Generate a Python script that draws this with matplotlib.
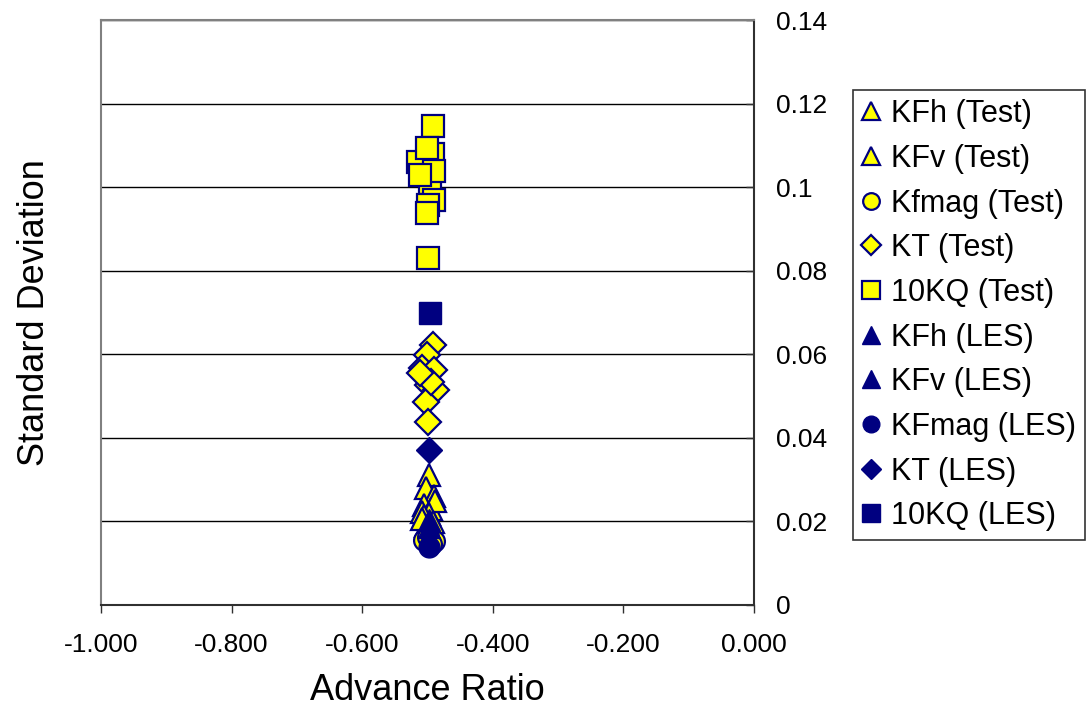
import matplotlib
matplotlib.use("Agg")
import matplotlib.pyplot as plt
from matplotlib.ticker import FixedLocator, FuncFormatter

plt.rcParams['font.family'] = ['Liberation Sans', 'DejaVu Sans']

# ---- data ----
kq_test_x = [-0.492, -0.492, -0.514, -0.501, -0.496, -0.490, -0.490, -0.500, -0.501, -0.500, -0.512]
kq_test_y = [0.1146, 0.1080, 0.1060, 0.1093, 0.1009, 0.1039, 0.0969, 0.0957, 0.0937, 0.0830, 0.1030]
kt_test_x = [-0.491, -0.501, -0.509, -0.490, -0.500, -0.487, -0.502, -0.500, -0.495, -0.512]
kt_test_y = [0.0622, 0.0598, 0.0566, 0.0562, 0.0526, 0.0514, 0.0486, 0.0439, 0.0534, 0.0555]
kfh_test_x = [-0.497, -0.503, -0.490, -0.506, -0.494, -0.508]
kfh_test_y = [0.0310, 0.0280, 0.0262, 0.0240, 0.0230, 0.0222]
kfv_test_x = [-0.488, -0.497, -0.506, -0.492, -0.502, -0.509]
kfv_test_y = [0.0250, 0.0218, 0.0212, 0.0198, 0.0188, 0.0205]
kfm_test_x = [-0.506, -0.490, -0.499, -0.494]
kfm_test_y = [0.0155, 0.0152, 0.0162, 0.0146]

kfh_les_x, kfh_les_y = [-0.498], [0.0203]
kfv_les_x, kfv_les_y = [-0.498], [0.0187]
kfm_les_x, kfm_les_y = [-0.497], [0.0139]
kt_les_x, kt_les_y = [-0.497], [0.0371]
kq_les_x, kq_les_y = [-0.496], [0.0698]

x_ticks = [-1.0, -0.8, -0.6, -0.4, -0.2, 0.0]
y_ticks = [0, 0.02, 0.04, 0.06, 0.08, 0.1, 0.12, 0.14]

navy = '#000080'
yellow = '#FFFF00'

fig = plt.figure(figsize=(10.89, 7.13), dpi=100)
ax = fig.add_axes([101/1089, 108/713, 653/1089, 585/713])

test_kw = dict(linestyle='none', markerfacecolor=yellow, markeredgecolor=navy, markeredgewidth=1.6)
les_kw = dict(linestyle='none', markerfacecolor=navy, markeredgecolor=navy, markeredgewidth=1.0)

ax.plot(kfh_test_x, kfh_test_y, marker='^', markersize=16, label='KFh (Test)', **test_kw)
ax.plot(kfv_test_x, kfv_test_y, marker='^', markersize=16, label='KFv (Test)', **test_kw)
ax.plot(kfm_test_x, kfm_test_y, marker='o', markersize=15, label='Kfmag (Test)', **test_kw)
ax.plot(kt_test_x, kt_test_y, marker='D', markersize=13, label='KT (Test)', **test_kw)
ax.plot(kq_test_x, kq_test_y, marker='s', markersize=16, label='10KQ (Test)', **test_kw)
ax.plot(kfh_les_x, kfh_les_y, marker='^', markersize=16, label='KFh (LES)', **les_kw)
ax.plot(kfv_les_x, kfv_les_y, marker='^', markersize=16, label='KFv (LES)', **les_kw)
ax.plot(kfm_les_x, kfm_les_y, marker='o', markersize=15, label='KFmag (LES)', **les_kw)
ax.plot(kt_les_x, kt_les_y, marker='D', markersize=13, label='KT (LES)', **les_kw)
ax.plot(kq_les_x, kq_les_y, marker='s', markersize=16, label='10KQ (LES)', **les_kw)

ax.set_xlim(-1.0, 0.0)
ax.set_ylim(0, 0.14)
ax.xaxis.set_major_locator(FixedLocator(x_ticks))
ax.xaxis.set_major_formatter(FuncFormatter(lambda v, p: f"{v:.3f}"))
ax.yaxis.set_major_locator(FixedLocator(y_ticks))
ax.yaxis.set_major_formatter(FuncFormatter(lambda v, p: "0" if v == 0 else f"{v:g}"))
ax.yaxis.tick_right()
ax.tick_params(axis='x', direction='out', length=6, width=1, colors='#303030', labelsize=19, pad=14.5,
               labelcolor='black')
ax.tick_params(axis='y', direction='in', length=6, width=1, colors='#303030', labelsize=19, pad=16,
               labelcolor='black')
ax.grid(axis='y', color='black', linewidth=1)
ax.set_axisbelow(True)
ax.spines['left'].set_color('#808080')
ax.spines['top'].set_color('#808080')
ax.spines['bottom'].set_color('#303030')
ax.spines['right'].set_color('#303030')
for s in ax.spines.values():
    s.set_linewidth(1.5)

ax.set_xlabel('Advance Ratio', fontsize=26, labelpad=11)
ax.set_ylabel('Standard Deviation', fontsize=26, labelpad=35)
ax.yaxis.set_label_position('left')

leg = ax.legend(loc='upper left', bbox_to_anchor=(853/1089, 1 - 90/713), bbox_transform=fig.transFigure,
                fontsize=22, frameon=True, fancybox=False, edgecolor='black', markerscale=0.8,
                handlelength=0.6, handletextpad=0.35, labelspacing=0.48, borderpad=0.3, borderaxespad=0)
leg.get_frame().set_linewidth(1.2)

fig.savefig('out.png', dpi=100)
